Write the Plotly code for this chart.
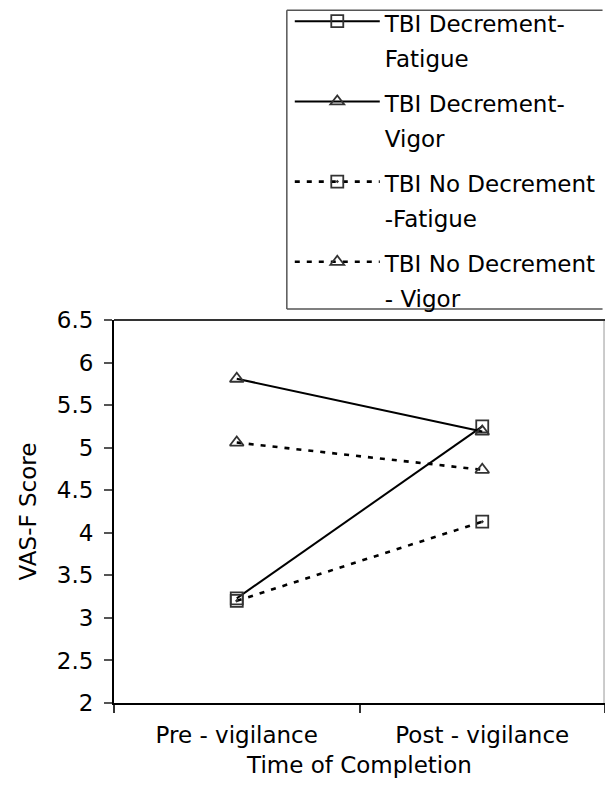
import plotly.graph_objects as go

categories = ["Pre - vigilance", "Post - vigilance"]
dec_fatigue = [3.23, 5.25]
dec_vigor = [5.81, 5.19]
nodec_fatigue = [3.20, 4.13]
nodec_vigor = [5.06, 4.74]
names = ["TBI Decrement-<br>Fatigue", "TBI Decrement-<br>Vigor",
         "TBI No Decrement<br>-Fatigue", "TBI No Decrement<br>- Vigor"]
y_ticks = [2, 2.5, 3, 3.5, 4, 4.5, 5, 5.5, 6, 6.5]
y_ticklabels = ["2", "2.5", "3", "3.5", "4", "4.5", "5", "5.5", "6", "6.5"]

FONT = "DejaVu Sans"
FS = 23

series = [
    (dec_fatigue, names[0], "solid", "square-open", 2.0),
    (dec_vigor, names[1], "solid", "triangle-up-open", 2.0),
    (nodec_fatigue, names[2], "5px,7px", "square-open-dot", 2.6),
    (nodec_vigor, names[3], "5px,7px", "triangle-up-open", 2.6),
]

fig = go.Figure()
for i, (vals, nm, dash, sym, lw) in enumerate(series):
    fig.add_trace(go.Scatter(
        x=categories, y=vals,
        name=f'<span style="font-size:{FS}px">{nm}</span>',
        mode="lines+markers",
        line=dict(color="black", width=lw, dash=dash),
        marker=dict(symbol=sym, size=12, color="#333333",
                    line=dict(width=1.8, color="#333333")),
        legendgroup=f"g{i}",
    ))

fig.update_layout(
    template="none",
    width=605, height=793,
    margin=dict(l=114, r=0, t=320, b=90, autoexpand=False),
    paper_bgcolor="white", plot_bgcolor="white",
    font=dict(family=FONT, size=FS, color="black"),
    showlegend=True,
    legend=dict(
        x=0.358, y=1.843, xanchor="left", yanchor="top",
        bgcolor="rgba(0,0,0,0)", borderwidth=0,
        font=dict(family=FONT, size=27, color="black"),
        itemwidth=85, valign="top", tracegroupgap=7, maxheight=2000,
        itemclick=False, itemdoubleclick=False,
    ),
    xaxis=dict(
        type="category", range=[-0.5, 1.5],
        tickson="boundaries", ticks="outside", ticklen=8, tickwidth=1.5,
        tickcolor="#333333", ticklabelstandoff=10,
        showline=True, linecolor="black", linewidth=2,
        showgrid=False, zeroline=False,
        tickfont=dict(family=FONT, size=FS),
        title=dict(text="Time of Completion", font=dict(family=FONT, size=FS), standoff=10),
    ),
    yaxis=dict(
        range=[2, 6.5], tickvals=y_ticks, ticktext=y_ticklabels,
        ticks="outside", ticklen=8, tickwidth=1.5, tickcolor="#555555",
        ticklabelstandoff=6,
        showline=True, linecolor="black", linewidth=2,
        showgrid=False, zeroline=False,
        tickfont=dict(family=FONT, size=FS),
        title=dict(text="VAS-F Score", font=dict(family=FONT, size=FS), standoff=14),
    ),
)

frame = dict(color="#555555", width=1.5)
# plot-area frame: light right edge, dark top edge
fig.add_shape(type="line", xref="paper", yref="paper", x0=0.998, x1=0.998, y0=0, y1=1,
              line=dict(color="#aaaaaa", width=1.2), layer="below")
fig.add_shape(type="line", xref="paper", yref="paper", x0=0, x1=1.0, y0=1, y1=1,
              line=dict(color="#333333", width=2))
# legend frame: left, top and bottom edges (right edge lies beyond the figure)
fig.add_shape(type="line", xref="paper", yref="paper", x0=0.352, x1=0.352, y0=1.0287, y1=1.809, line=frame)
fig.add_shape(type="line", xref="paper", yref="paper", x0=0.352, x1=0.995, y0=1.809, y1=1.809, line=frame)
fig.add_shape(type="line", xref="paper", yref="paper", x0=0.352, x1=0.995, y0=1.0287, y1=1.0287, line=frame)

fig.write_html("out.html")
